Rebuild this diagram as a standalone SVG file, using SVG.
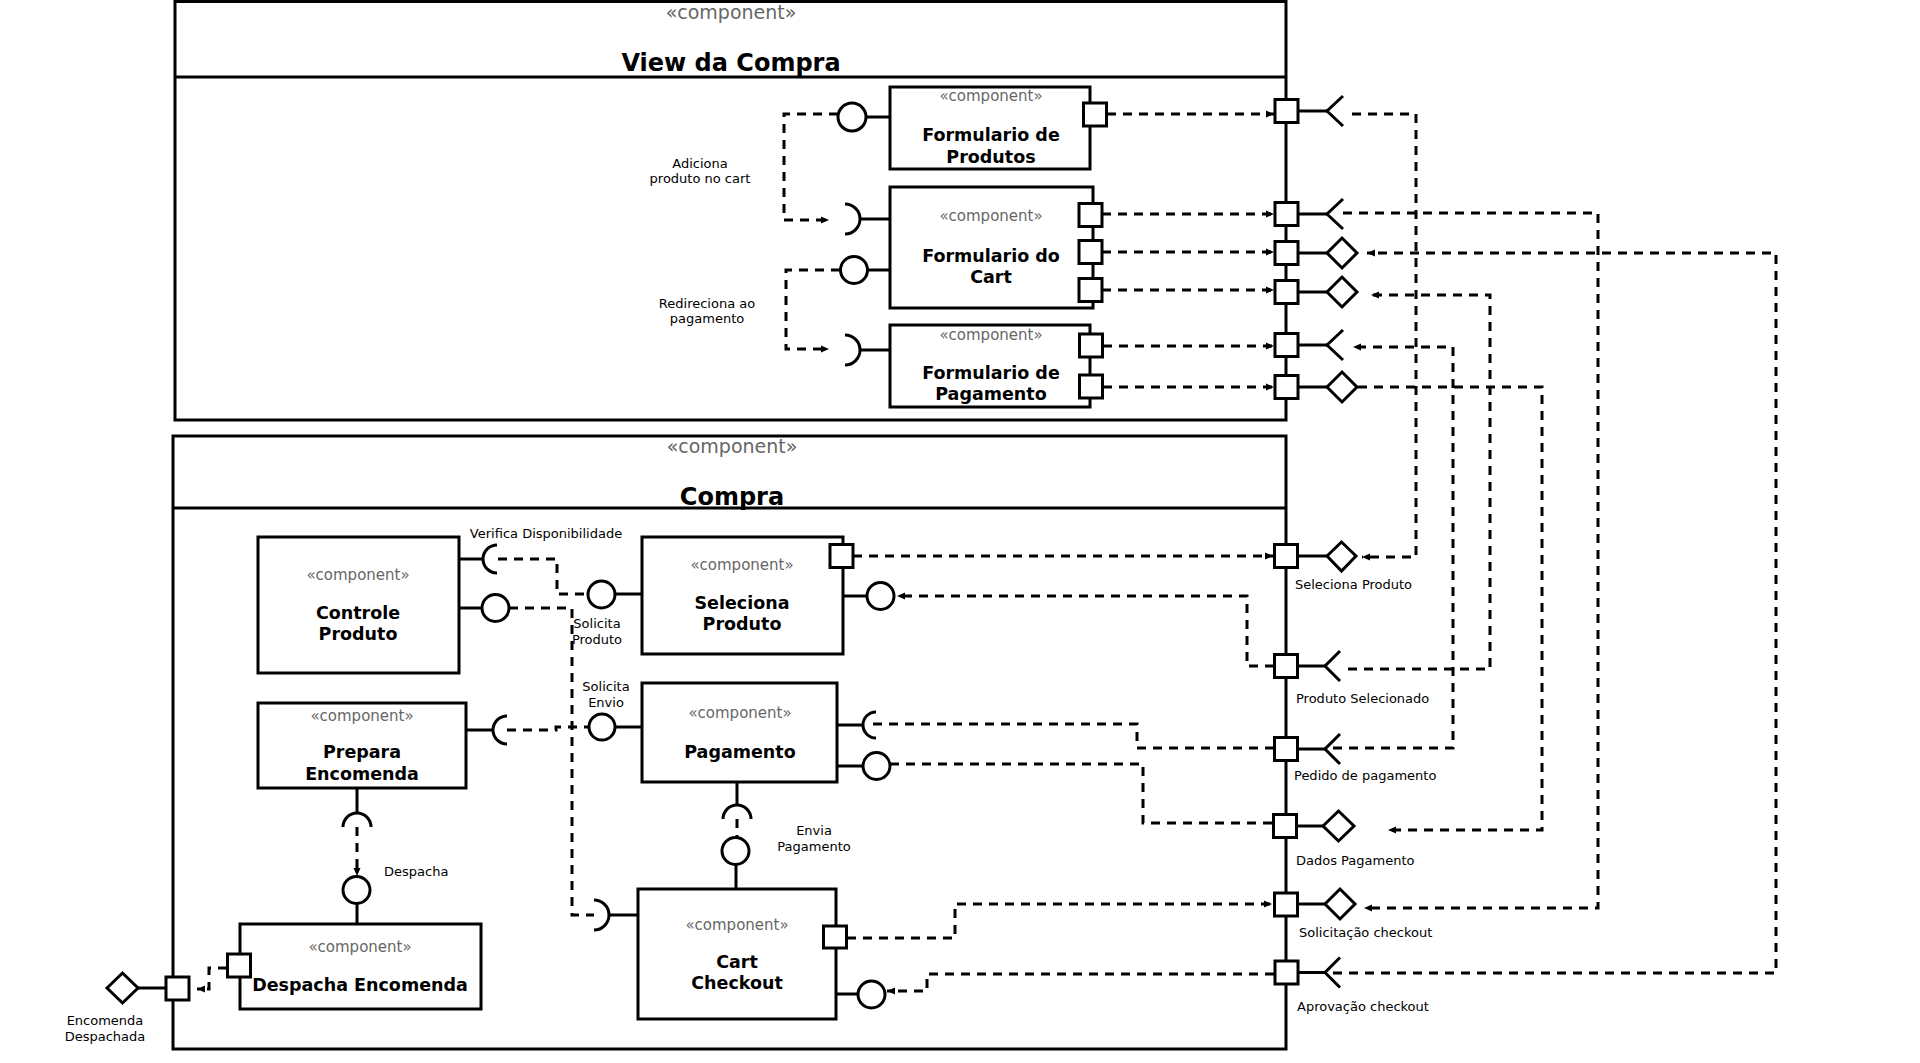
<svg xmlns="http://www.w3.org/2000/svg" width="1920" height="1063" viewBox="0 0 1920 1063">
<style>
.box{fill:#fff;stroke:#000;stroke-width:3}
.ln{fill:none;stroke:#000;stroke-width:3}
.ifc{fill:#fff;stroke:#000;stroke-width:3}
.dash{fill:none;stroke:#000;stroke-width:3;stroke-dasharray:9 7}
.port{fill:#fff;stroke:#000;stroke-width:3}
text{font-family:"DejaVu Sans","Liberation Sans",sans-serif}
.st{fill:#666;font-size:15px;text-anchor:middle}
.sth{fill:#666;font-size:19px;text-anchor:middle}
.nm{font-weight:bold;font-size:17.5px;text-anchor:middle}
.title{font-weight:bold;font-size:24px;text-anchor:middle}
.lb{font-size:13px}
.lbc{font-size:13px;text-anchor:middle}
</style>
<defs>
<marker id="arr" markerWidth="9" markerHeight="8" refX="8" refY="4" orient="auto" markerUnits="userSpaceOnUse"><path d="M0,0.5 L8,4 L0,7.5 z" fill="#000"/></marker>
</defs>
<rect width="1920" height="1063" fill="#fff"/>

<g id="view-da-compra">
<rect class="box" x="175" y="1.5" width="1111" height="418.5"/>
<line class="ln" x1="175" y1="77" x2="1286" y2="77"/>
<text class="sth" x="731" y="19">«component»</text>
<text class="title" x="731" y="71">View da Compra</text>
</g>

<g id="compra">
<rect class="box" x="173" y="436" width="1113" height="613"/>
<line class="ln" x1="173" y1="508" x2="1286" y2="508"/>
<text class="sth" x="732" y="453">«component»</text>
<text class="title" x="732" y="505">Compra</text>
</g>

<g id="formulario-produtos">
<rect class="box" x="890" y="87" width="200" height="82"/>
<text class="st" x="991" y="101">«component»</text>
<text class="nm" x="991" y="141">Formulario de</text>
<text class="nm" x="991" y="163">Produtos</text>
<rect class="port" x="1083.5" y="103" width="23" height="23"/>
<line class="ln" x1="866" y1="117" x2="890" y2="117"/>
<circle class="ifc" cx="852" cy="117" r="14"/>
</g>

<g id="formulario-cart">
<rect class="box" x="890" y="187" width="203" height="121"/>
<text class="st" x="991" y="221">«component»</text>
<text class="nm" x="991" y="262">Formulario do</text>
<text class="nm" x="991" y="283">Cart</text>
<rect class="port" x="1079" y="203.5" width="23" height="23"/>
<rect class="port" x="1079" y="240.5" width="23" height="23"/>
<rect class="port" x="1079" y="278.5" width="23" height="23"/>
<line class="ln" x1="860" y1="219" x2="890" y2="219"/>
<path class="ln" d="M845,204 A15,15 0 0 1 845,234"/>
<line class="ln" x1="867.5" y1="270" x2="890" y2="270"/>
<circle class="ifc" cx="854" cy="270" r="13.5"/>
</g>

<g id="formulario-pagamento">
<rect class="box" x="890" y="325" width="200" height="82"/>
<text class="st" x="991" y="340">«component»</text>
<text class="nm" x="991" y="379">Formulario de</text>
<text class="nm" x="991" y="400">Pagamento</text>
<rect class="port" x="1079.5" y="334" width="23" height="23"/>
<rect class="port" x="1079.5" y="375" width="23" height="23"/>
<line class="ln" x1="860" y1="350" x2="890" y2="350"/>
<path class="ln" d="M845,335 A15,15 0 0 1 845,365"/>
</g>

<g id="view-ports">
<line class="ln" x1="1298" y1="111" x2="1327" y2="111"/>
<path class="ln" d="M1343,96 L1327,111 L1343,126"/>
<rect class="port" x="1275" y="99.5" width="23" height="23"/>
<line class="ln" x1="1298" y1="214" x2="1327" y2="214"/>
<path class="ln" d="M1343,199 L1327,214 L1343,229"/>
<rect class="port" x="1275" y="202.5" width="23" height="23"/>
<line class="ln" x1="1298" y1="253" x2="1327" y2="253"/>
<path class="ifc" d="M1327,253 L1342,238 L1357,253 L1342,268 z"/>
<rect class="port" x="1275" y="241.5" width="23" height="23"/>
<line class="ln" x1="1298" y1="292" x2="1327" y2="292"/>
<path class="ifc" d="M1327,292 L1342,277 L1357,292 L1342,307 z"/>
<rect class="port" x="1275" y="280.5" width="23" height="23"/>
<line class="ln" x1="1298" y1="345" x2="1327" y2="345"/>
<path class="ln" d="M1343,330 L1327,345 L1343,360"/>
<rect class="port" x="1275" y="333.5" width="23" height="23"/>
<line class="ln" x1="1298" y1="387" x2="1327" y2="387"/>
<path class="ifc" d="M1327,387 L1342,372 L1357,387 L1342,402 z"/>
<rect class="port" x="1275" y="375.5" width="23" height="23"/>
</g>

<g id="controle-produto">
<rect class="box" x="258" y="537" width="201" height="136"/>
<text class="st" x="358" y="580">«component»</text>
<text class="nm" x="358" y="619">Controle</text>
<text class="nm" x="358" y="640">Produto</text>
<line class="ln" x1="459" y1="559" x2="483" y2="559"/>
<path class="ln" d="M497,545 A14,14 0 0 0 497,573"/>
<line class="ln" x1="459" y1="608" x2="482" y2="608"/>
<circle class="ifc" cx="495.5" cy="608" r="13.5"/>
</g>

<g id="seleciona-produto">
<rect class="box" x="642" y="537" width="201" height="117"/>
<text class="st" x="742" y="570">«component»</text>
<text class="nm" x="742" y="609">Seleciona</text>
<text class="nm" x="742" y="630">Produto</text>
<rect class="port" x="830" y="544.5" width="23" height="23"/>
<line class="ln" x1="615" y1="594" x2="642" y2="594"/>
<circle class="ifc" cx="601.5" cy="594.5" r="13.5"/>
<line class="ln" x1="843" y1="596" x2="867" y2="596"/>
<circle class="ifc" cx="880.5" cy="596" r="13.5"/>
</g>

<g id="prepara-encomenda">
<rect class="box" x="258" y="703" width="208" height="85"/>
<text class="st" x="362" y="721">«component»</text>
<text class="nm" x="362" y="758">Prepara</text>
<text class="nm" x="362" y="780">Encomenda</text>
<line class="ln" x1="466" y1="730" x2="493" y2="730"/>
<path class="ln" d="M507,716 A14,14 0 0 0 507,744"/>
<line class="ln" x1="357" y1="788" x2="357" y2="813"/>
<path class="ln" d="M343,827 A14,14 0 0 1 371,827"/>
</g>

<g id="pagamento">
<rect class="box" x="642" y="683" width="195" height="99"/>
<text class="st" x="740" y="718">«component»</text>
<text class="nm" x="740" y="758">Pagamento</text>
<line class="ln" x1="615" y1="727" x2="642" y2="727"/>
<circle class="ifc" cx="602" cy="727" r="13"/>
<line class="ln" x1="837" y1="725" x2="862" y2="725"/>
<path class="ln" d="M876,712 A13,13 0 0 0 876,738"/>
<line class="ln" x1="837" y1="766" x2="863" y2="766"/>
<circle class="ifc" cx="876.5" cy="766" r="13.5"/>
<line class="ln" x1="737" y1="782" x2="737" y2="805"/>
<path class="ln" d="M723,819 A14,14 0 0 1 751,819"/>
</g>

<g id="cart-checkout">
<rect class="box" x="638" y="889" width="198" height="130"/>
<text class="st" x="737" y="930">«component»</text>
<text class="nm" x="737" y="968">Cart</text>
<text class="nm" x="737" y="989">Checkout</text>
<rect class="port" x="823.5" y="926" width="23" height="22"/>
<line class="ln" x1="736" y1="864.5" x2="736" y2="889"/>
<circle class="ifc" cx="735.5" cy="851" r="13.5"/>
<line class="ln" x1="609" y1="915" x2="638" y2="915"/>
<path class="ln" d="M594,900 A15,15 0 0 1 594,930"/>
<line class="ln" x1="836" y1="994" x2="858" y2="994"/>
<circle class="ifc" cx="871.5" cy="994.5" r="13.5"/>
</g>

<g id="despacha-encomenda">
<rect class="box" x="240" y="924" width="241" height="85"/>
<text class="st" x="360" y="952">«component»</text>
<text class="nm" x="360" y="991">Despacha Encomenda</text>
<rect class="port" x="227.5" y="954" width="23" height="23"/>
<line class="ln" x1="357" y1="903.5" x2="357" y2="924"/>
<circle class="ifc" cx="356.5" cy="890" r="13.5"/>
</g>

<g id="compra-ports">
<rect class="port" x="1274.5" y="544.5" width="23" height="23"/>
<line class="ln" x1="1297.5" y1="556" x2="1327" y2="556"/>
<path class="ifc" d="M1327,556 L1341.5,542 L1356,556 L1341.5,571 z"/>
<rect class="port" x="1274.5" y="654.5" width="23" height="23"/>
<line class="ln" x1="1297.5" y1="666" x2="1325" y2="666"/>
<path class="ln" d="M1340,651 L1325,666 L1340,681"/>
<rect class="port" x="1274.5" y="737.5" width="23" height="23"/>
<line class="ln" x1="1297.5" y1="749" x2="1325" y2="749"/>
<path class="ln" d="M1340,734 L1325,749 L1340,764"/>
<rect class="port" x="1273.5" y="814.5" width="23" height="23"/>
<line class="ln" x1="1296.5" y1="826" x2="1323" y2="826"/>
<path class="ifc" d="M1323,826 L1338.5,811 L1354,826 L1338.5,841 z"/>
<rect class="port" x="1274.5" y="893" width="23" height="23"/>
<line class="ln" x1="1297.5" y1="904" x2="1325" y2="904"/>
<path class="ifc" d="M1325,904 L1340,889 L1355,904 L1340,919 z"/>
<rect class="port" x="1275" y="961" width="23" height="23"/>
<line class="ln" x1="1298" y1="972.5" x2="1325" y2="972.5"/>
<path class="ln" d="M1340,957.5 L1325,972.5 L1340,987.5"/>
<rect class="port" x="166" y="977" width="23" height="23"/>
<line class="ln" x1="138" y1="988" x2="166" y2="988"/>
<path class="ifc" d="M107,988 L122.5,973 L138,988 L122.5,1003 z"/>
</g>

<g id="connectors">
<path class="dash" d="M1107,114 H1274" marker-end="url(#arr)"/>
<path class="dash" d="M1102,214 H1274" marker-end="url(#arr)"/>
<path class="dash" d="M1102,252 H1274" marker-end="url(#arr)"/>
<path class="dash" d="M1102,290 H1274" marker-end="url(#arr)"/>
<path class="dash" d="M1103,346 H1274" marker-end="url(#arr)"/>
<path class="dash" d="M1103,387 H1274" marker-end="url(#arr)"/>
<path class="dash" d="M838,114 H784 V220 H829" marker-end="url(#arr)"/>
<path class="dash" d="M840,270 H786 V349 H829" marker-end="url(#arr)"/>
<path class="dash" d="M1352,114 H1416 V557 H1362" marker-end="url(#arr)"/>
<path class="dash" d="M1343,213 H1598 V908 H1364" marker-end="url(#arr)"/>
<path class="dash" d="M1333,973 H1776 V253 H1367" marker-end="url(#arr)"/>
<path class="dash" d="M1348,669 H1490 V295 H1371" marker-end="url(#arr)"/>
<path class="dash" d="M1333,748 H1453 V347 H1353" marker-end="url(#arr)"/>
<path class="dash" d="M1358,387 H1542 V830 H1388" marker-end="url(#arr)"/>
<path class="dash" d="M853,556 H1273" marker-end="url(#arr)"/>
<path class="dash" d="M1274,666 H1247 V596 H897" marker-end="url(#arr)"/>
<path class="dash" d="M1274,748 H1137 V724 H867"/>
<path class="dash" d="M890,764 H1143 V823 H1272"/>
<path class="dash" d="M847,938 H955 V904 H1272" marker-end="url(#arr)"/>
<path class="dash" d="M1274,974 H927 V991 H887" marker-end="url(#arr)"/>
<path class="dash" d="M498,559 H557 V594 H587"/>
<path class="dash" d="M509,608 H572 V915 H594"/>
<path class="dash" d="M507,730 H556 V727 H589"/>
<path class="dash" d="M357,827 V876" marker-end="url(#arr)"/>
<path class="dash" d="M737,819 V837"/>
<path class="dash" d="M227,968 H209 V989 H197" marker-end="url(#arr)"/>
</g>

<g id="labels">
<text class="lbc" x="700" y="168">Adiciona</text>
<text class="lbc" x="700" y="183">produto no cart</text>
<text class="lbc" x="707" y="308">Redireciona ao</text>
<text class="lbc" x="707" y="323">pagamento</text>
<text class="lbc" x="546" y="538">Verifica Disponibilidade</text>
<text class="lbc" x="597" y="628">Solicita</text>
<text class="lbc" x="597" y="644">Produto</text>
<text class="lbc" x="606" y="691">Solicita</text>
<text class="lbc" x="606" y="707">Envio</text>
<text class="lb" x="384" y="876">Despacha</text>
<text class="lbc" x="814" y="835">Envia</text>
<text class="lbc" x="814" y="851">Pagamento</text>
<text class="lbc" x="105" y="1025">Encomenda</text>
<text class="lbc" x="105" y="1041">Despachada</text>
<text class="lb" x="1295" y="589">Seleciona Produto</text>
<text class="lb" x="1296" y="703">Produto Selecionado</text>
<text class="lb" x="1294" y="780">Pedido de pagamento</text>
<text class="lb" x="1296" y="865">Dados Pagamento</text>
<text class="lb" x="1299" y="937">Solicitação checkout</text>
<text class="lb" x="1297" y="1011">Aprovação checkout</text>
</g>
</svg>
